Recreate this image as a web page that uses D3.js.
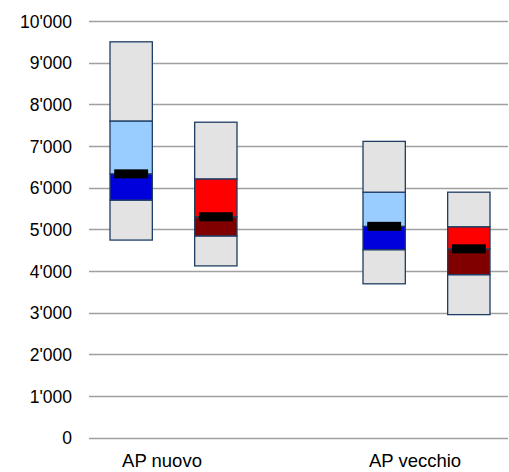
<!DOCTYPE html>
<html>
<head>
<meta charset="utf-8">
<script src="https://cdn.jsdelivr.net/npm/d3@7"></script>
<style>
  html, body { margin: 0; padding: 0; background: #fff; }
  svg { display: block; }
  text { font-family: "Liberation Sans", Arial, sans-serif; fill: #000; }
</style>
</head>
<body>
<svg id="chart" width="509" height="472"></svg>
<script>
// Categories and series
const categories = ["AP nuovo", "AP vecchio"];
const seriesNames = ["blu", "rosso"];

// Box statistics per category, one array per series (order follows categories)
const bluMin    = [4740, 3690];
const bluQ1     = [5700, 4510];
const bluMedian = [6330, 5070];
const bluQ3     = [7600, 5890];
const bluMax    = [9500, 7110];

const rossoMin    = [4120, 2950];
const rossoQ1     = [4840, 3910];
const rossoMedian = [5300, 4530];
const rossoQ3     = [6210, 5060];
const rossoMax    = [7570, 5890];

const yTicks = [0, 1000, 2000, 3000, 4000, 5000, 6000, 7000, 8000, 9000, 10000];

// Colour scheme per series: [lower box, upper box]
const palette = {
  blu:   { low: "#0000dd", high: "#99ccff" },
  rosso: { low: "#800000", high: "#ff0000" }
};
const rangeFill = "#e3e3e3";
const outline = "#1f3d63";

// Build rows for drawing
const rows = [];
categories.forEach((c, i) => {
  rows.push({ cat: c, s: "blu", min: bluMin[i], q1: bluQ1[i], med: bluMedian[i], q3: bluQ3[i], max: bluMax[i] });
  rows.push({ cat: c, s: "rosso", min: rossoMin[i], q1: rossoQ1[i], med: rossoMedian[i], q3: rossoQ3[i], max: rossoMax[i] });
});

// Layout
const plotLeft = 89, plotRight = 508, plotTop = 21, plotBottom = 437.5;

const svg = d3.select("#chart");

const y = d3.scaleLinear().domain([0, 10000]).range([plotBottom, plotTop]);

const xCat = d3.scalePoint().domain(categories).range([plotLeft + 73, plotRight - 93]);
const xSeries = d3.scaleBand().domain(seriesNames).range([-52, 75]).paddingInner(0.5);

const fmt = d3.formatLocale({ decimal: ".", thousands: "'", grouping: [3], currency: ["", ""] }).format(",");

// Gridlines
svg.append("g")
  .selectAll("line")
  .data(yTicks)
  .join("line")
  .attr("x1", plotLeft).attr("x2", plotRight)
  .attr("y1", d => Math.round(y(d)) + 0.5).attr("y2", d => Math.round(y(d)) + 0.5)
  .attr("stroke", "#a0a0a0")
  .attr("stroke-width", 1.4);

// Y axis labels
const yAxis = d3.axisLeft(y).tickValues(yTicks).tickFormat(fmt).tickSize(0).tickPadding(0);
const gy = svg.append("g").attr("transform", `translate(72,0)`).call(yAxis);
gy.select(".domain").remove();
gy.selectAll("text")
  .style("font-family", "'Liberation Sans', Arial, sans-serif")
  .style("font-size", "17.5px")
  .attr("fill", "#000")
  .attr("dy", "0.36em");

// Category labels
svg.append("g")
  .selectAll("text")
  .data(categories)
  .join("text")
  .attr("x", d => xCat(d))
  .attr("y", 467)
  .attr("text-anchor", "middle")
  .style("font-size", "18.5px")
  .text(d => d);

// Boxes
const bw = xSeries.bandwidth();
const g = svg.append("g");

rows.forEach(r => {
  const x0 = xCat(r.cat) + xSeries(r.s);
  const segs = [
    { lo: r.min, hi: r.q1, fill: rangeFill },
    { lo: r.q1, hi: r.med, fill: palette[r.s].low },
    { lo: r.med, hi: r.q3, fill: palette[r.s].high },
    { lo: r.q3, hi: r.max, fill: rangeFill }
  ];
  g.append("g")
    .selectAll("rect")
    .data(segs)
    .join("rect")
    .attr("x", x0)
    .attr("width", bw)
    .attr("y", d => y(d.hi))
    .attr("height", d => y(d.lo) - y(d.hi))
    .attr("fill", d => d.fill)
    .attr("stroke", outline)
    .attr("stroke-width", 1.3);

  // Median marker
  const mw = bw * 0.8;
  g.append("rect")
    .attr("x", x0 + (bw - mw) / 2)
    .attr("width", mw)
    .attr("y", y(r.med) - 4.5)
    .attr("height", 9)
    .attr("fill", "#000");
});
</script>
</body>
</html>
